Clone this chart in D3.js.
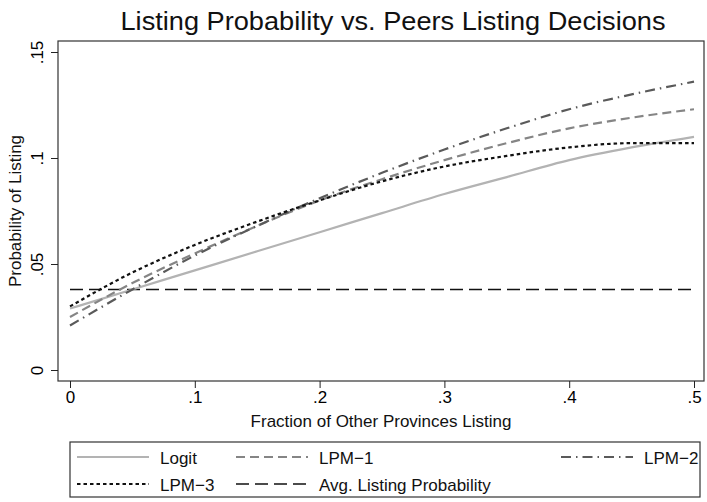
<!DOCTYPE html>
<html>
<head>
<meta charset="utf-8">
<script src="https://cdn.jsdelivr.net/npm/d3@7"></script>
<style>
  body { margin: 0; background: #fff; }
  svg { display: block; font-family: "Liberation Sans", Arial, Helvetica, sans-serif; }
</style>
</head>
<body>
<svg id="chart" width="707" height="502"></svg>
<script>
    // fraction of other provinces listing
    var fracs = [0, .05, .1, .15, .2, .25, .3, .35, .4, .45, .5];

    var logit = [0.029, 0.038, 0.047, 0.056, 0.065, 0.074, 0.083, 0.091, 0.099, 0.105, 0.110];
    var lpm1  = [0.025, 0.041, 0.055, 0.068, 0.080, 0.090, 0.099, 0.107, 0.114, 0.119, 0.123];
    var lpm2  = [0.021, 0.038, 0.054, 0.068, 0.081, 0.093, 0.104, 0.114, 0.123, 0.130, 0.136];
    var lpm3  = [0.030, 0.046, 0.059, 0.070, 0.080, 0.089, 0.096, 0.101, 0.105, 0.107, 0.107];
    var avgProb = 0.038;

    var xTicks = [0, .1, .2, .3, .4, .5];
    var xTickLabels = ["0", ".1", ".2", ".3", ".4", ".5"];
    var yTicks = [0, .05, .1, .15];
    var yTickLabels = ["0", ".05", ".1", ".15"];

    var seriesNames = ["Logit", "LPM\u22121", "LPM\u22122", "LPM\u22123", "Avg. Listing Probability"];

    var svg = d3.select("#chart");

    var box = {left: 58, right: 704, top: 41, bottom: 381};
    var x = d3.scaleLinear().domain([0, .5]).range([70, 694]);
    var y = d3.scaleLinear().domain([0, .15]).range([370, 52]);

    var styles = [
      {color: "#b3b3b3", dash: null, width: 2.2},
      {color: "#858585", dash: "9,5", width: 2.2},
      {color: "#5a5a5a", dash: "10,5,1.5,5", width: 2.2},
      {color: "#111", dash: "3.5,3", width: 2.2},
      {color: "#111", dash: "13,6", width: 1.6}
    ];

    // plot frame
    svg.append("rect")
      .attr("x", box.left).attr("y", box.top)
      .attr("width", box.right - box.left).attr("height", box.bottom - box.top)
      .attr("fill", "none").attr("stroke", "#333").attr("stroke-width", 1.2);

    // axes
    var xAxis = d3.axisBottom(x).tickValues(xTicks)
      .tickFormat(function(d, i) { return xTickLabels[i]; })
      .tickSize(7).tickSizeOuter(0).tickPadding(3);
    var gx = svg.append("g").attr("transform", "translate(0," + box.bottom + ")").call(xAxis);
    gx.select(".domain").remove();
    gx.selectAll("line").attr("stroke", "#222");
    gx.selectAll("text").attr("font-size", 17).attr("fill", "#000")
      .attr("font-family", "inherit");

    var yAxis = d3.axisLeft(y).tickValues(yTicks)
      .tickFormat(function(d, i) { return yTickLabels[i]; })
      .tickSize(7).tickSizeOuter(0);
    var gy = svg.append("g").attr("transform", "translate(" + box.left + ",0)").call(yAxis);
    gy.select(".domain").remove();
    gy.selectAll("line").attr("stroke", "#222");
    gy.selectAll("text")
      .attr("font-size", 17).attr("fill", "#000").attr("font-family", "inherit")
      .attr("x", 0).attr("y", 0).attr("dy", null)
      .attr("text-anchor", "middle")
      .attr("transform", "translate(-15,0) rotate(-90)");

    // titles
    svg.append("text").attr("x", 393).attr("y", 30).attr("text-anchor", "middle")
      .attr("font-size", 26).attr("fill", "#111")
      .attr("textLength", 545).attr("lengthAdjust", "spacingAndGlyphs")
      .text("Listing Probability vs. Peers Listing Decisions");
    svg.append("text").attr("x", 381).attr("y", 427).attr("text-anchor", "middle")
      .attr("font-size", 17).attr("fill", "#111")
      .text("Fraction of Other Provinces Listing");
    svg.append("text").attr("transform", "translate(21,211) rotate(-90)")
      .attr("text-anchor", "middle").attr("font-size", 17).attr("fill", "#111")
      .text("Probability of Listing");

    // lines
    var line = d3.line()
      .x(function(d, i) { return x(fracs[i]); })
      .y(function(d) { return y(d); })
      .curve(d3.curveMonotoneX);

    var plotSeries = [logit, lpm1, lpm2, lpm3, fracs.map(function() { return avgProb; })];
    var drawOrder = [4, 0, 1, 2, 3];
    drawOrder.forEach(function(k) {
      svg.append("path")
        .datum(plotSeries[k])
        .attr("d", line)
        .attr("fill", "none")
        .attr("stroke", styles[k].color)
        .attr("stroke-width", styles[k].width)
        .attr("stroke-dasharray", styles[k].dash);
    });

    // legend
    svg.append("rect").attr("x", 70).attr("y", 442).attr("width", 630).attr("height", 55)
      .attr("fill", "#fff").attr("stroke", "#333").attr("stroke-width", 1.2);
    var legPos = [
      {x: 77, y: 457}, {x: 236, y: 457}, {x: 561, y: 457},
      {x: 77, y: 484}, {x: 236, y: 484}
    ];
    seriesNames.forEach(function(name, k) {
      var p = legPos[k];
      svg.append("line").attr("x1", p.x).attr("x2", p.x + 72)
        .attr("y1", p.y).attr("y2", p.y)
        .attr("stroke", styles[k].color).attr("stroke-width", styles[k].width)
        .attr("stroke-dasharray", styles[k].dash);
      svg.append("text").attr("x", p.x + 83).attr("y", p.y + 7)
        .attr("font-size", 17).attr("fill", "#111").text(name);
    });
</script>
</body>
</html>
